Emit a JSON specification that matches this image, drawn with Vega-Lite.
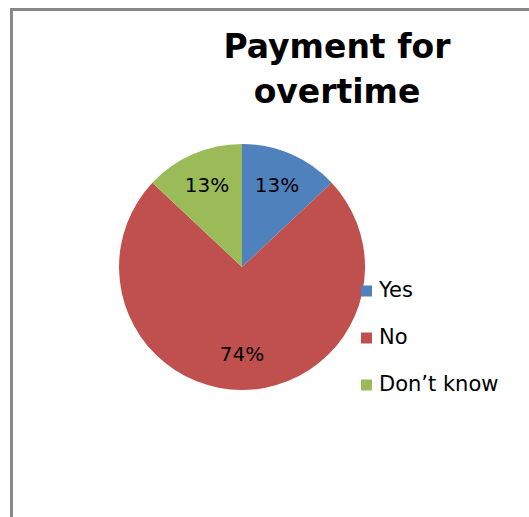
{
  "$schema": "https://vega.github.io/schema/vega-lite/v6.json",
  "autosize": {"type": "none"},
  "padding": {"left": 11.5, "top": 9.5, "right": 0, "bottom": 0},
  "width": 651,
  "height": 560,
  "background": "white",
  "config": {
    "view": {"stroke": "#888888", "strokeWidth": 3},
    "font": "DejaVu Sans"
  },
  "title": {
    "text": ["Payment for", "overtime"],
    "font": "DejaVu Sans",
    "fontSize": 33,
    "fontWeight": "bold",
    "color": "black",
    "lineHeight": 45,
    "anchor": "middle",
    "frame": "group",
    "baseline": "top",
    "offset": -100
  },
  "data": {
    "values": [
      {"answer": "Yes", "value": 13, "label": "13%", "order": 1},
      {"answer": "No", "value": 74, "label": "74%", "order": 2},
      {"answer": "Don't know", "value": 13, "label": "13%", "order": 3}
    ]
  },
  "encoding": {
    "x": {"datum": 0.3541, "type": "quantitative", "scale": {"domain": [0, 1]}, "axis": null},
    "y": {"datum": 0.4598, "type": "quantitative", "scale": {"domain": [0, 1], "reverse": true}, "axis": null},
    "theta": {"field": "value", "type": "quantitative", "stack": true},
    "order": {"field": "order", "type": "quantitative"}
  },
  "layer": [
    {
      "mark": {"type": "arc", "outerRadius": 123, "stroke": null},
      "encoding": {
        "color": {
          "field": "answer",
          "type": "nominal",
          "scale": {"domain": ["Yes", "No", "Don't know"], "range": ["#4F81BD", "#C0504D", "#9BBB59"]},
          "legend": {
            "title": null,
            "orient": "none",
            "legendX": 344.5,
            "legendY": 271,
            "symbolType": "square",
            "symbolSize": 121,
            "symbolStrokeWidth": 0,
            "labelFont": "DejaVu Sans",
            "labelFontSize": 21,
            "labelColor": "black",
            "labelOffset": 2,
            "rowPadding": 25,
            "padding": 0,
            "labelExpr": "datum.label == \"Don't know\" ? \"Don’t know\" : datum.label"
          }
        }
      }
    },
    {
      "mark": {"type": "text", "radius": 88, "font": "DejaVu Sans", "fontSize": 20, "color": "black", "align": "center", "baseline": "middle"},
      "encoding": {
        "text": {"field": "label", "type": "nominal"}
      }
    }
  ]
}
